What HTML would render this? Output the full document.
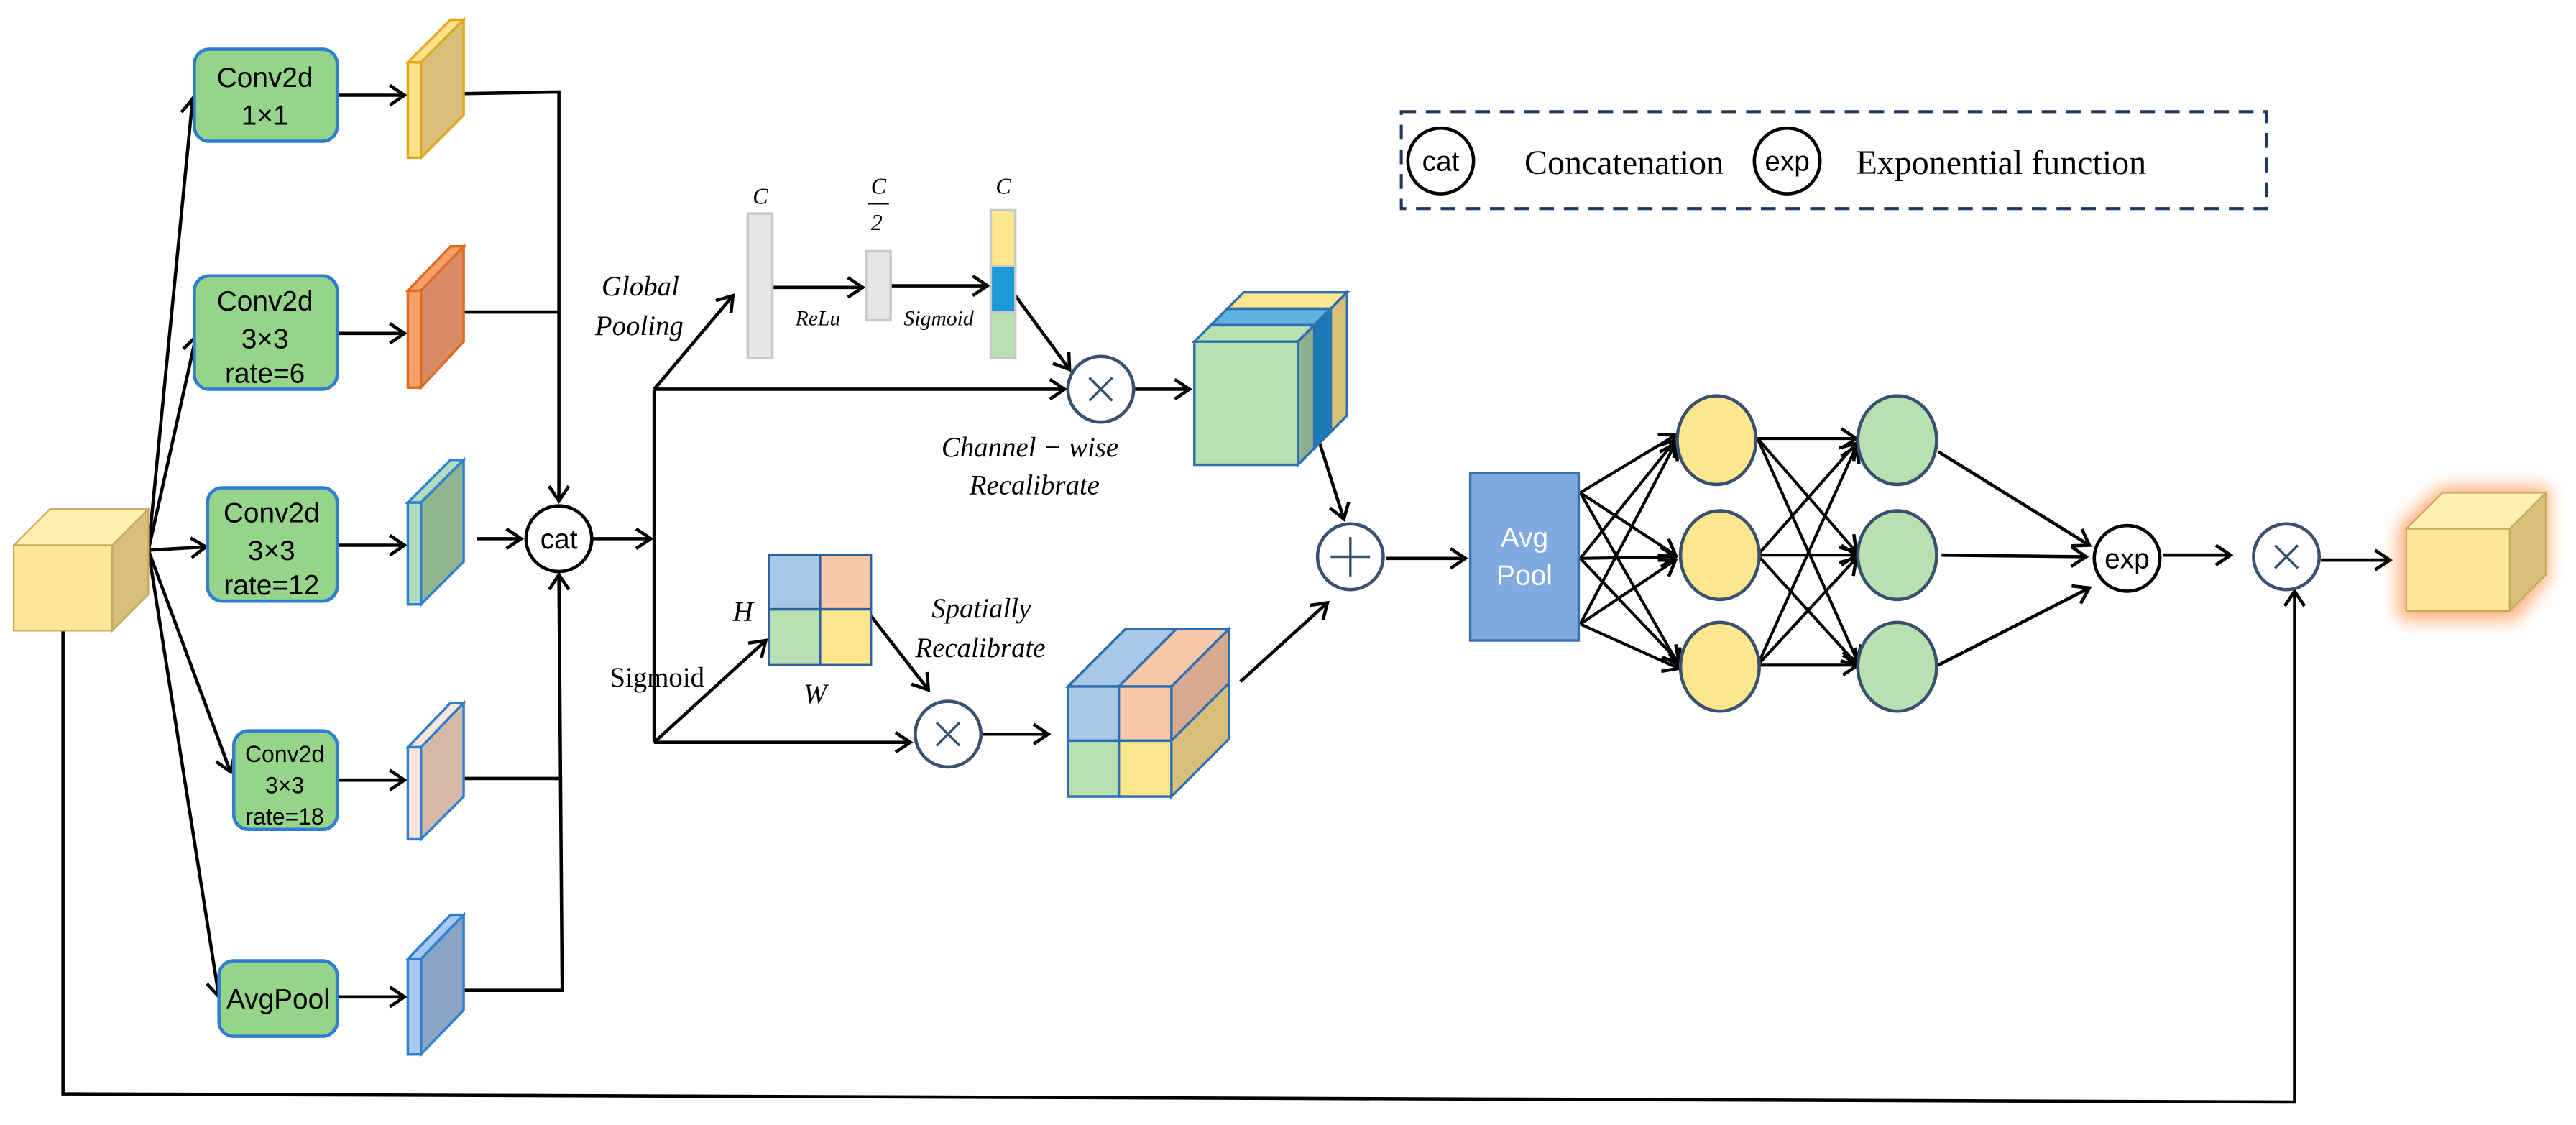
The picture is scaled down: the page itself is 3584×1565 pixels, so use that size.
<!DOCTYPE html>
<html><head><meta charset="utf-8"><style>html,body{margin:0;padding:0;background:#fff}svg{display:block}</style></head>
<body>
<svg width="3584" height="1565" viewBox="0 0 1568 685" xmlns="http://www.w3.org/2000/svg">
<defs>
<marker id="a" markerUnits="userSpaceOnUse" markerWidth="14" markerHeight="14" refX="11" refY="7" orient="auto">
<path d="M2,1 L11,7 L2,13" fill="none" stroke="#000" stroke-width="2"/></marker>
<filter id="glow" x="-50%" y="-50%" width="200%" height="200%"><feGaussianBlur stdDeviation="5"/></filter>
</defs>
<g fill="none" stroke="#000" stroke-width="2">
<!-- fan -->
<line x1="90" y1="335" x2="117" y2="60" marker-end="url(#a)"/>
<line x1="90" y1="335" x2="119" y2="205" marker-end="url(#a)"/>
<line x1="90" y1="335" x2="125" y2="333" marker-end="url(#a)"/>
<line x1="90" y1="335" x2="140" y2="470" marker-end="url(#a)"/>
<line x1="90" y1="335" x2="133" y2="607" marker-end="url(#a)"/>
<!-- box to slabs -->
<line x1="205" y1="58" x2="246" y2="58" marker-end="url(#a)"/>
<line x1="205" y1="203" x2="246" y2="203" marker-end="url(#a)"/>
<line x1="205" y1="332" x2="246" y2="332" marker-end="url(#a)"/>
<line x1="205" y1="475" x2="246" y2="475" marker-end="url(#a)"/>
<line x1="205" y1="607" x2="246" y2="607" marker-end="url(#a)"/>
<!-- collect -->
<polyline points="282,57 340,56 340,305" marker-end="url(#a)"/>
<line x1="282" y1="190" x2="340" y2="190"/>
<line x1="282" y1="474" x2="342" y2="474"/>
<polyline points="282,603 342,603 340,350" marker-end="url(#a)"/>
<line x1="290" y1="328" x2="317" y2="328" marker-end="url(#a)"/>
<line x1="360" y1="328" x2="396" y2="328" marker-end="url(#a)"/>
<line x1="398" y1="237" x2="398" y2="452"/>
<line x1="398" y1="237" x2="446" y2="180" marker-end="url(#a)"/>
<line x1="398" y1="237" x2="648" y2="237" marker-end="url(#a)"/>
<line x1="398" y1="452" x2="466" y2="390" marker-end="url(#a)"/>
<line x1="398" y1="452" x2="554" y2="452" marker-end="url(#a)"/>
<line x1="470" y1="175" x2="525" y2="175" marker-end="url(#a)"/>
<line x1="542" y1="174" x2="601" y2="174" marker-end="url(#a)"/>
<line x1="618" y1="180" x2="651" y2="225" marker-end="url(#a)"/>
<line x1="691" y1="237" x2="724" y2="237" marker-end="url(#a)"/>
<line x1="530" y1="375" x2="565" y2="420" marker-end="url(#a)"/>
<line x1="598" y1="447" x2="638" y2="447" marker-end="url(#a)"/>
<line x1="797" y1="250" x2="818" y2="316" marker-end="url(#a)"/>
<line x1="755" y1="415" x2="808" y2="367" marker-end="url(#a)"/>
<line x1="844" y1="340" x2="892" y2="340" marker-end="url(#a)"/>
<!-- net -->
<g stroke-width="1.8">
<line x1="962" y1="300" x2="1020" y2="265" marker-end="url(#a)"/>
<line x1="962" y1="300" x2="1020" y2="338" marker-end="url(#a)"/>
<line x1="962" y1="300" x2="1022" y2="405" marker-end="url(#a)"/>
<line x1="962" y1="340" x2="1020" y2="268" marker-end="url(#a)"/>
<line x1="962" y1="340" x2="1020" y2="339" marker-end="url(#a)"/>
<line x1="962" y1="340" x2="1022" y2="403" marker-end="url(#a)"/>
<line x1="962" y1="380" x2="1020" y2="270" marker-end="url(#a)"/>
<line x1="962" y1="380" x2="1020" y2="341" marker-end="url(#a)"/>
<line x1="962" y1="380" x2="1022" y2="407" marker-end="url(#a)"/>
<line x1="1070" y1="267" x2="1130" y2="267" marker-end="url(#a)"/>
<line x1="1070" y1="267" x2="1130" y2="336" marker-end="url(#a)"/>
<line x1="1070" y1="267" x2="1131" y2="403" marker-end="url(#a)"/>
<line x1="1070" y1="338" x2="1130" y2="270" marker-end="url(#a)"/>
<line x1="1070" y1="338" x2="1130" y2="338" marker-end="url(#a)"/>
<line x1="1070" y1="338" x2="1131" y2="405" marker-end="url(#a)"/>
<line x1="1070" y1="405" x2="1130" y2="272" marker-end="url(#a)"/>
<line x1="1070" y1="405" x2="1130" y2="340" marker-end="url(#a)"/>
<line x1="1070" y1="405" x2="1131" y2="405" marker-end="url(#a)"/>
</g>
<line x1="1180" y1="275" x2="1272" y2="332" marker-end="url(#a)"/>
<line x1="1182" y1="338" x2="1270" y2="339" marker-end="url(#a)"/>
<line x1="1180" y1="405" x2="1272" y2="358" marker-end="url(#a)"/>
<line x1="1317" y1="338" x2="1358" y2="338" marker-end="url(#a)"/>
<line x1="1413" y1="341" x2="1455" y2="341" marker-end="url(#a)"/>
<polyline points="38,383 38,666 1397,671 1397,360" marker-end="url(#a)"/>
</g>
<!-- input cube -->
<g stroke="#c8a860" stroke-width="1">
<polygon points="8,332 30,310 90,310 68,332" fill="#fff0b0"/>
<polygon points="68,332 90,310 90,362 68,384" fill="#d8c07a"/>
<rect x="8" y="332" width="60" height="52" fill="#fee79a"/>
</g>
<!-- boxes -->
<g fill="#96d48a" stroke="#2f7fd0" stroke-width="2">
<rect x="118" y="30" width="87" height="56" rx="9"/>
<rect x="118" y="168" width="87" height="69" rx="9"/>
<rect x="126" y="297" width="79" height="69" rx="9"/>
<rect x="142" y="445" width="63" height="60" rx="9"/>
<rect x="133" y="585" width="72" height="46" rx="9"/>
</g>
<g font-family="Liberation Sans, sans-serif" font-size="17" text-anchor="middle" fill="#000">
<text x="161" y="53">Conv2d</text><text x="161" y="76">1×1</text>
<text x="161" y="189">Conv2d</text><text x="161" y="212">3×3</text><text x="161" y="233">rate=6</text>
<text x="165" y="318">Conv2d</text><text x="165" y="341">3×3</text><text x="165" y="362">rate=12</text>
<g font-size="14"><text x="173" y="464">Conv2d</text><text x="173" y="483">3×3</text><text x="173" y="502">rate=18</text></g>
<text x="169" y="614">AvgPool</text>
</g>
<!-- slabs -->
<g stroke-width="1.5">
<g stroke="#e0a820"><polygon points="248,38 274,12 282,12 256,38" fill="#fde28a"/><polygon points="256,38 282,12 282,70 256,96" fill="#d8c07a"/><rect x="248" y="38" width="8" height="58" fill="#fde28a"/></g>
<g stroke="#e06a20"><polygon points="248,177 274,150 282,150 256,177" fill="#f6a06a"/><polygon points="256,177 282,150 282,208 256,236" fill="#d88a64"/><rect x="248" y="177" width="8" height="59" fill="#f6a06a"/></g>
<g stroke="#2f7fd0"><polygon points="248,306 274,280 282,280 256,306" fill="#b0dcc0"/><polygon points="256,306 282,280 282,342 256,368" fill="#90b490"/><rect x="248" y="306" width="8" height="62" fill="#b0dcc0"/></g>
<g stroke="#2f7fd0"><polygon points="248,455 274,428 282,428 256,455" fill="#fbe4d8"/><polygon points="256,455 282,428 282,485 256,511" fill="#d4b8a8"/><rect x="248" y="455" width="8" height="56" fill="#fbe4d8"/></g>
<g stroke="#2f7fd0"><polygon points="248,584 274,557 282,557 256,584" fill="#a8c8f0"/><polygon points="256,584 282,557 282,615 256,642" fill="#8aa4c4"/><rect x="248" y="584" width="8" height="58" fill="#a8c8f0"/></g>
</g>
<!-- circles -->
<g fill="#fff" stroke="#000" stroke-width="2">
<circle cx="340" cy="328" r="20"/><circle cx="1295" cy="340" r="20"/>
<circle cx="877" cy="98" r="20"/><circle cx="1088" cy="98" r="20"/>
</g>
<g fill="#fff" stroke="#3a5070" stroke-width="2">
<circle cx="670" cy="237" r="20"/><circle cx="577" cy="447" r="20"/>
<circle cx="822" cy="339" r="20"/><circle cx="1392" cy="339" r="20"/>
</g>
<g stroke="#3a5070" stroke-width="1.5">
<path d="M663,230 L677,244 M677,230 L663,244"/><path d="M570,440 L584,454 M584,440 L570,454"/>
<path d="M1385,332 L1399,346 M1399,332 L1385,346"/><path d="M810,339 H834 M822,327 V351"/>
</g>
<g font-family="Liberation Sans, sans-serif" font-size="17" text-anchor="middle">
<text x="340" y="334">cat</text><text x="1295" y="346">exp</text>
<text x="877" y="104">cat</text><text x="1088" y="104">exp</text>
</g>
<!-- bars -->
<g stroke="#c8c8c8" stroke-width="1.5">
<rect x="455" y="130" width="15" height="88" fill="#e6e6e6"/>
<rect x="527" y="153" width="15" height="42" fill="#e6e6e6"/>
<rect x="603" y="128" width="15" height="34" fill="#fde68e"/>
<rect x="603" y="162" width="15" height="28" fill="#1a9ad8"/>
<rect x="603" y="190" width="15" height="28" fill="#b8e0b0"/>
</g>
<!-- channel cube -->
<g stroke="#2f6fb0" stroke-width="1.5">
<polygon points="747,188 757,178 820,178 810,188" fill="#fde68e"/><polygon points="810,188 820,178 820,253 810,263" fill="#d8c07a"/><rect x="747" y="188" width="63" height="75" fill="#fde68e"/>
<polygon points="737,198 747,188 810,188 800,198" fill="#60b0e0"/><polygon points="800,198 810,188 810,263 800,273" fill="#1a7ab8"/><rect x="737" y="198" width="63" height="75" fill="#60b0e0"/>
<polygon points="727,208 737,198 800,198 790,208" fill="#b8e0b0"/><polygon points="790,208 800,198 800,273 790,283" fill="#8fb090"/><rect x="727" y="208" width="63" height="75" fill="#b8e0b0"/>
</g>
<!-- HW grid -->
<g stroke="#3060a0" stroke-width="1.5">
<rect x="468" y="338" width="31" height="33" fill="#a8c8e8"/><rect x="499" y="338" width="31" height="33" fill="#f8c8a8"/>
<rect x="468" y="371" width="31" height="34" fill="#b8e0b0"/><rect x="499" y="371" width="31" height="34" fill="#fde68e"/>
</g>
<!-- spatial cube -->
<g stroke="#2f6fb0" stroke-width="1.5">
<polygon points="650,418 685,383 716,383 681,418" fill="#a8c8e8"/>
<polygon points="681,418 716,383 748,383 713,418" fill="#f8c8a8"/>
<polygon points="713,418 748,383 748,416 713,451" fill="#d8a890"/>
<polygon points="713,451 748,416 748,450 713,485" fill="#d8c07a"/>
<rect x="650" y="418" width="31" height="33" fill="#a8c8e8"/><rect x="681" y="418" width="32" height="33" fill="#f8c8a8"/>
<rect x="650" y="451" width="31" height="34" fill="#b8e0b0"/><rect x="681" y="451" width="32" height="34" fill="#fde68e"/>
</g>
<!-- avg pool -->
<rect x="895" y="288" width="66" height="102" fill="#80aae0" stroke="#3a70b8" stroke-width="1.5"/>
<g font-family="Liberation Sans, sans-serif" font-size="17" fill="#fff" text-anchor="middle"><text x="928" y="333">Avg</text><text x="928" y="356">Pool</text></g>
<!-- nodes -->
<g stroke="#3a5070" stroke-width="2">
<ellipse cx="1045" cy="268" rx="24" ry="27" fill="#fde68e"/><ellipse cx="1047" cy="338" rx="24" ry="27" fill="#fde68e"/><ellipse cx="1047" cy="406" rx="24" ry="27" fill="#fde68e"/>
<ellipse cx="1155" cy="268" rx="24" ry="27" fill="#b8e0b0"/><ellipse cx="1155" cy="338" rx="24" ry="27" fill="#b8e0b0"/><ellipse cx="1155" cy="406" rx="24" ry="27" fill="#b8e0b0"/>
</g>
<!-- output cube -->
<g filter="url(#glow)" fill="#ffa060" opacity="0.8"><polygon points="1460,320 1486,296 1552,296 1552,352 1532,378 1460,378"/></g>
<g stroke="#c8a860" stroke-width="1">
<polygon points="1465,322 1487,300 1550,300 1528,322" fill="#fff0b0"/>
<polygon points="1528,322 1550,300 1550,350 1528,372" fill="#d8c07a"/>
<rect x="1465" y="322" width="63" height="50" fill="#fee79a"/>
</g>
<!-- legend -->
<rect x="853" y="68" width="527" height="59" fill="none" stroke="#203860" stroke-width="1.8" stroke-dasharray="9,6"/>
<g font-family="Liberation Serif, serif" font-size="21"><text x="928" y="106">Concatenation</text><text x="1130" y="106">Exponential function</text></g>
<!-- italic labels -->
<g font-family="Liberation Serif, serif" font-style="italic" font-size="17" fill="#000">
<text x="366" y="180">Global</text><text x="362" y="204">Pooling</text>
<text x="458" y="124" font-size="14">C</text>
<text x="530" y="118" font-size="14">C</text><line x1="528" y1="124" x2="541" y2="124" stroke="#000" stroke-width="1"/><text x="530" y="140" font-size="14">2</text>
<text x="606" y="118" font-size="14">C</text>
<text x="484" y="198" font-size="13">ReLu</text>
<text x="550" y="198" font-size="13">Sigmoid</text>
<text x="573" y="278">Channel − wise</text><text x="590" y="301">Recalibrate</text>
<text x="567" y="376">Spatially</text><text x="557" y="400">Recalibrate</text>
<text x="446" y="378">H</text><text x="489" y="428">W</text>
<text x="371" y="418" font-style="normal">Sigmoid</text>
</g>
</svg>
</body></html>
